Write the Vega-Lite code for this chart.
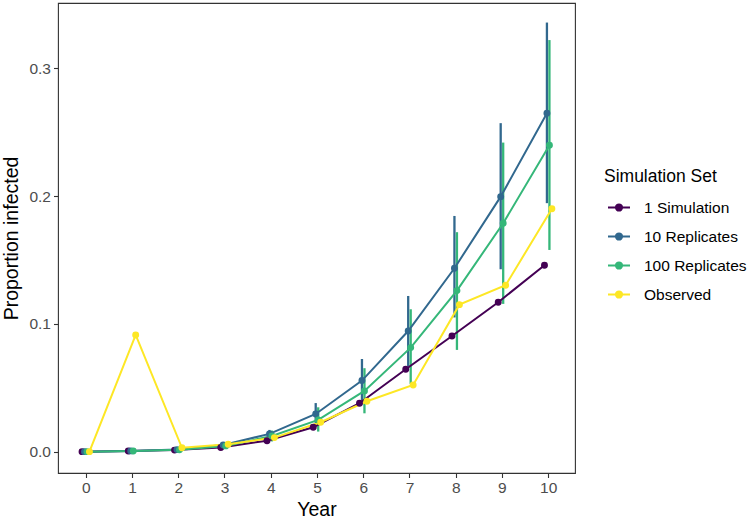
{
  "$schema": "https://vega.github.io/schema/vega-lite/v6.json",
  "width": 517,
  "height": 470,
  "autosize": {"type": "none"},
  "padding": {"left": 58, "top": 3, "right": 178, "bottom": 46},
  "background": "white",
  "config": {
    "font": "Liberation Sans",
    "view": {"stroke": "#333333", "strokeWidth": 1.1},
    "axis": {
      "domain": false,
      "grid": false,
      "tickColor": "#333333",
      "tickSize": 4.5,
      "tickWidth": 1.1,
      "labelColor": "#4D4D4D",
      "labelFontSize": 15.5,
      "labelPadding": 3,
      "titleColor": "#000000",
      "titleFontSize": 19.5,
      "titleFontWeight": "normal"
    }
  },
  "data": {
    "values": [
      {"Year": 0, "Series": "1 Simulation", "Prop": 0},
      {"Year": 1, "Series": "1 Simulation", "Prop": 0.0005},
      {"Year": 2, "Series": "1 Simulation", "Prop": 0.0012},
      {"Year": 3, "Series": "1 Simulation", "Prop": 0.0032},
      {"Year": 4, "Series": "1 Simulation", "Prop": 0.0086},
      {"Year": 5, "Series": "1 Simulation", "Prop": 0.0191},
      {"Year": 6, "Series": "1 Simulation", "Prop": 0.0379},
      {"Year": 7, "Series": "1 Simulation", "Prop": 0.0645},
      {"Year": 8, "Series": "1 Simulation", "Prop": 0.0905},
      {"Year": 9, "Series": "1 Simulation", "Prop": 0.1169},
      {"Year": 10, "Series": "1 Simulation", "Prop": 0.1459},

      {"Year": 0, "Series": "10 Replicates", "Prop": 0, "Lo": 0, "Hi": 0},
      {"Year": 1, "Series": "10 Replicates", "Prop": 0.0006, "Lo": 0.0003, "Hi": 0.0009},
      {"Year": 2, "Series": "10 Replicates", "Prop": 0.0016, "Lo": 0.0008, "Hi": 0.0025},
      {"Year": 3, "Series": "10 Replicates", "Prop": 0.0052, "Lo": 0.0035, "Hi": 0.007},
      {"Year": 4, "Series": "10 Replicates", "Prop": 0.0139, "Lo": 0.010, "Hi": 0.017},
      {"Year": 5, "Series": "10 Replicates", "Prop": 0.0295, "Lo": 0.020, "Hi": 0.038},
      {"Year": 6, "Series": "10 Replicates", "Prop": 0.0556, "Lo": 0.040, "Hi": 0.0725},
      {"Year": 7, "Series": "10 Replicates", "Prop": 0.0944, "Lo": 0.067, "Hi": 0.1218},
      {"Year": 8, "Series": "10 Replicates", "Prop": 0.1435, "Lo": 0.105, "Hi": 0.1844},
      {"Year": 9, "Series": "10 Replicates", "Prop": 0.1995, "Lo": 0.1427, "Hi": 0.257},
      {"Year": 10, "Series": "10 Replicates", "Prop": 0.2648, "Lo": 0.1944, "Hi": 0.3357},

      {"Year": 0, "Series": "100 Replicates", "Prop": 0, "Lo": 0, "Hi": 0},
      {"Year": 1, "Series": "100 Replicates", "Prop": 0.0005, "Lo": 0.0002, "Hi": 0.0008},
      {"Year": 2, "Series": "100 Replicates", "Prop": 0.0014, "Lo": 0.0006, "Hi": 0.0022},
      {"Year": 3, "Series": "100 Replicates", "Prop": 0.0045, "Lo": 0.0025, "Hi": 0.0065},
      {"Year": 4, "Series": "100 Replicates", "Prop": 0.0122, "Lo": 0.008, "Hi": 0.0165},
      {"Year": 5, "Series": "100 Replicates", "Prop": 0.0248, "Lo": 0.0157, "Hi": 0.0347},
      {"Year": 6, "Series": "100 Replicates", "Prop": 0.0475, "Lo": 0.030, "Hi": 0.0653},
      {"Year": 7, "Series": "100 Replicates", "Prop": 0.0814, "Lo": 0.053, "Hi": 0.1114},
      {"Year": 8, "Series": "100 Replicates", "Prop": 0.126, "Lo": 0.0796, "Hi": 0.1717},
      {"Year": 9, "Series": "100 Replicates", "Prop": 0.1787, "Lo": 0.1156, "Hi": 0.2418},
      {"Year": 10, "Series": "100 Replicates", "Prop": 0.2398, "Lo": 0.1578, "Hi": 0.322},

      {"Year": 0, "Series": "Observed", "Prop": 0},
      {"Year": 1, "Series": "Observed", "Prop": 0.0913},
      {"Year": 2, "Series": "Observed", "Prop": 0.003},
      {"Year": 3, "Series": "Observed", "Prop": 0.0058},
      {"Year": 4, "Series": "Observed", "Prop": 0.011},
      {"Year": 5, "Series": "Observed", "Prop": 0.023},
      {"Year": 6, "Series": "Observed", "Prop": 0.0394},
      {"Year": 7, "Series": "Observed", "Prop": 0.0522},
      {"Year": 8, "Series": "Observed", "Prop": 0.115},
      {"Year": 9, "Series": "Observed", "Prop": 0.1302},
      {"Year": 10, "Series": "Observed", "Prop": 0.190}
    ]
  },
  "transform": [
    {
      "calculate": "datum.Year + [-0.08, -0.027, 0.027, 0.08][indexof(['1 Simulation', '10 Replicates', '100 Replicates', 'Observed'], datum.Series)]",
      "as": "YearDodged"
    }
  ],
  "encoding": {
    "x": {
      "field": "YearDodged",
      "type": "quantitative",
      "scale": {"domain": [-0.6, 10.58], "nice": false, "zero": false},
      "axis": {"values": [0, 1, 2, 3, 4, 5, 6, 7, 8, 9, 10], "format": "d", "title": "Year", "titlePadding": 4}
    },
    "color": {
      "field": "Series",
      "type": "nominal",
      "scale": {
        "domain": ["1 Simulation", "10 Replicates", "100 Replicates", "Observed"],
        "range": ["#440154", "#31688E", "#35B779", "#FDE725"]
      },
      "legend": {
        "title": "Simulation Set",
        "orient": "none",
        "legendX": 546,
        "legendY": 165,
        "padding": 0,
        "titleFontSize": 17.5,
        "titleFontWeight": "normal",
        "titleColor": "#000000",
        "titlePadding": 10,
        "labelFontSize": 15.5,
        "labelColor": "#000000",
        "labelOffset": 13,
        "symbolType": "M-1,0H1M-0.28,0A0.28,0.28,0,1,1,0.28,0A0.28,0.28,0,1,1,-0.28,0Z",
        "symbolSize": 484,
        "symbolStrokeWidth": 2,
        "symbolOffset": 3,
        "rowPadding": 8,
        "encode": {
          "symbols": {"update": {"fill": {"scale": "color", "field": "value"}}}
        }
      }
    }
  },
  "layer": [
    {
      "transform": [{"filter": "isValid(datum.Lo)"}],
      "mark": {"type": "rule", "strokeWidth": 2.3},
      "encoding": {
        "y": {"field": "Lo", "type": "quantitative"},
        "y2": {"field": "Hi"}
      }
    },
    {
      "mark": {"type": "line", "strokeWidth": 2},
      "encoding": {
        "y": {
          "field": "Prop",
          "type": "quantitative",
          "scale": {"domain": [-0.0167, 0.351], "nice": false, "zero": false},
          "axis": {"values": [0, 0.1, 0.2, 0.3], "format": ".1f", "title": "Proportion infected", "titlePadding": 7}
        }
      }
    },
    {
      "mark": {"type": "circle", "size": 48, "opacity": 1},
      "encoding": {
        "y": {"field": "Prop", "type": "quantitative"}
      }
    }
  ]
}
